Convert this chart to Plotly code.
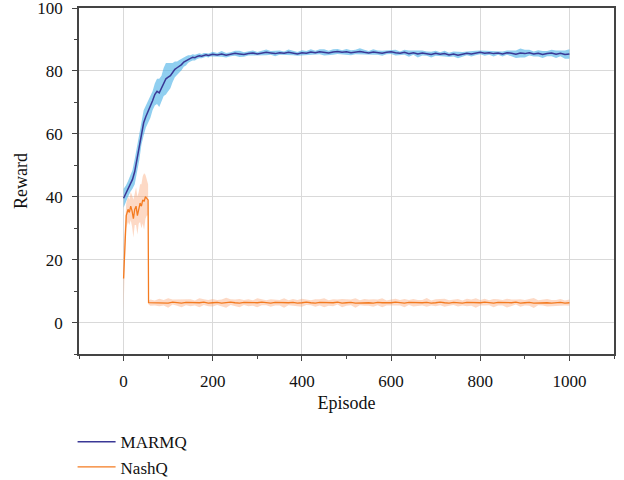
import plotly.graph_objects as go

# MARMQ: mean reward and spread per episode
marmq_ep = list(range(0, 200, 5)) + list(range(200, 1001, 10))
marmq_mean = [
    39.5, 41.0, 42.5, 44.0, 45.5, 48.0, 52.0, 55.5, 60.0, 63.5,
    65.5, 67.0, 68.5, 70.5, 72.5, 73.5, 73.0, 74.5, 76.5, 77.5,
    78.0, 78.5, 79.5, 80.5, 81.0, 81.5, 82.0, 82.8, 83.2, 83.8,
    84.0, 84.3, 84.2, 84.6, 84.8, 84.7, 85.0, 85.1, 84.9, 85.2,
    85.3, 85.1, 85.4, 85.0, 85.3, 85.6, 85.4, 85.2, 85.5, 85.7,
    85.4, 85.6, 85.9, 85.7, 85.5, 85.8, 85.6, 85.9, 85.7, 85.4,
    85.8, 85.6, 86.0, 85.8, 86.1, 85.9, 85.7, 86.0, 86.2, 85.9,
    86.1, 85.8, 86.0, 86.2, 85.9, 85.7, 86.0, 85.8, 85.6, 85.9,
    86.1, 85.8, 85.6, 85.9, 85.5, 85.8, 85.4, 85.7, 85.5, 85.2,
    85.6, 85.3, 85.5, 85.1, 85.4, 85.0, 85.3, 85.6, 85.4, 85.7,
    85.9, 85.6, 85.8, 85.5, 85.7, 85.4, 85.8, 85.6, 85.3, 85.7,
    85.5, 85.8, 85.4, 85.6, 85.2, 85.5, 85.7, 85.3, 85.6, 85.2,
    85.4,
]
marmq_spread = [
    3.0, 2.5, 2.5, 2.5, 3.0, 4.0, 4.0, 4.0, 3.5, 4.0,
    3.5, 3.5, 3.5, 3.0, 3.5, 4.0, 4.5, 4.0, 4.5, 5.0,
    4.5, 4.0, 3.0, 2.5, 2.0, 2.0, 1.8, 1.5, 1.5, 1.2,
    1.0, 1.0, 0.9, 0.8, 0.8, 0.7, 0.7, 0.6, 0.6, 0.6,
    0.8, 0.6, 0.9, 0.7, 0.6, 0.8, 1.0, 0.7, 0.6, 0.8,
    0.6, 0.7, 0.9, 0.6, 0.8, 0.7, 0.6, 0.9, 0.7, 0.6,
    0.8, 0.7, 0.9, 0.6, 0.8, 1.0, 0.7, 0.9, 0.8, 0.7,
    0.9, 0.8, 0.7, 1.0, 0.8, 0.6, 0.9, 0.7, 0.8, 0.6,
    0.7, 0.9, 0.6, 0.8, 1.0, 0.7, 1.1, 0.8, 0.7, 0.9,
    0.8, 0.6, 0.9, 0.7, 0.8, 1.0, 0.7, 0.6, 0.8, 0.7,
    0.6, 0.8, 0.7, 0.9, 0.6, 0.8, 0.7, 0.9, 1.2, 1.4,
    1.2, 0.9, 0.8, 1.0, 1.1, 0.8, 1.0, 1.2, 0.9, 1.3,
    1.5,
]

# NashQ: mean reward and spread per episode
nash_ep = [0, 2, 4, 6, 8, 10, 13, 16, 19, 22, 25, 28, 31, 34, 37, 40, 43, 46, 49, 52, 55,
           56] + list(range(60, 1001, 10))
nash_mean = [
    14.0, 21.0, 30.0, 34.0, 35.0, 36.0, 35.0, 37.0, 35.5, 33.0,
    36.0, 37.0, 34.0, 36.5, 38.0, 37.0, 39.0, 38.5, 40.0, 39.5,
    39.0, 6.3,
    6.3, 6.2, 6.4, 6.3, 6.2, 6.5, 6.3, 6.2, 6.4, 6.3,
    6.2, 6.3, 6.5, 6.2, 6.3, 6.4, 6.2, 6.3, 6.5, 6.3,
    6.2, 6.4, 6.3, 6.2, 6.3, 6.5, 6.3, 6.2, 6.4, 6.3,
    6.2, 6.3, 6.4, 6.2, 6.3, 6.5, 6.3, 6.2, 6.4, 6.3,
    6.2, 6.3, 6.5, 6.2, 6.3, 6.4, 6.2, 6.3, 6.4, 6.3,
    6.2, 6.4, 6.3, 6.2, 6.3, 6.5, 6.3, 6.2, 6.4, 6.3,
    6.2, 6.3, 6.4, 6.2, 6.3, 6.5, 6.3, 6.2, 6.4, 6.3,
    6.2, 6.4, 6.3, 6.2, 6.3, 6.5, 6.3, 6.2, 6.4, 6.3,
    6.2, 6.3, 6.5, 6.2, 6.3, 6.4, 6.2, 6.3, 6.4, 6.3,
    6.2, 6.3, 6.4, 6.2, 6.3,
]
nash_spread = [
    10.0, 8.0, 5.0, 4.0, 4.0, 4.0, 4.0, 4.5, 5.0, 6.0,
    5.0, 6.0, 6.0, 5.0, 6.0, 7.0, 7.5, 9.0, 7.0, 5.5,
    5.0, 0.6,
    1.0, 0.8, 1.2, 0.9, 1.5, 0.8, 1.0, 1.3, 0.9, 1.1,
    0.8, 1.4, 0.9, 1.0, 1.2, 0.8, 1.1, 1.6, 0.9, 1.0,
    1.3, 0.8, 1.1, 0.9, 1.4, 1.0, 0.8, 1.2, 1.0, 0.9,
    1.5, 0.8, 1.1, 1.0, 1.3, 0.9, 0.8, 1.2, 1.0, 1.4,
    0.9, 1.1, 0.8, 1.3, 1.0, 0.9, 1.5, 0.8, 1.1, 1.0,
    1.2, 0.9, 1.4, 0.8, 1.0, 1.1, 0.9, 1.3, 0.8, 1.2,
    1.0, 0.9, 1.4, 0.8, 1.1, 1.0, 1.3, 0.9, 0.8, 1.2,
    0.8, 1.2, 1.0, 1.5, 0.9, 1.1, 0.8, 1.3, 1.0, 0.9,
    1.4, 1.0, 0.8, 1.2, 0.9, 1.1, 1.6, 0.8, 1.0, 1.2,
    1.0, 0.9, 1.1, 0.8, 1.0,
]
assert len(marmq_ep) == len(marmq_mean) == len(marmq_spread)
assert len(nash_ep) == len(nash_mean) == len(nash_spread)

font = "Liberation Serif, Times New Roman, serif"


def band(x, mean, spread, color):
    upper = [m + s for m, s in zip(mean, spread)]
    lower = [m - s for m, s in zip(mean, spread)]
    return go.Scatter(
        x=list(x) + list(x)[::-1], y=upper + lower[::-1],
        fill="toself", fillcolor=color, line=dict(width=0),
        mode="lines", showlegend=False, hoverinfo="skip",
    )


fig = go.Figure()
fig.add_trace(band(marmq_ep, marmq_mean, marmq_spread, "rgba(70,175,230,0.6)"))
fig.add_trace(go.Scatter(x=marmq_ep, y=marmq_mean, name="MARMQ", mode="lines",
                         line=dict(color="#3a3896", width=1.5)))
fig.add_trace(band(nash_ep, nash_mean, nash_spread, "rgba(250,160,110,0.4)"))
fig.add_trace(go.Scatter(x=nash_ep, y=nash_mean, name="NashQ", mode="lines",
                         line=dict(color="#f47b20", width=1.3)))

axis_style = dict(
    showline=True, linecolor="#444444", linewidth=1.5, mirror=True,
    showgrid=True, gridcolor="#d9d9d9", gridwidth=1, zeroline=False,
    ticks="outside", ticklen=5, tickcolor="#444444", automargin=False,
    ticklabeloverflow="allow",
    tickfont=dict(family=font, size=17, color="#111111"),
)

fig.update_xaxes(range=[-100, 1100], dtick=200, tick0=0, ticklabelstandoff=6,
                 minor=dict(dtick=100, ticks="outside", ticklen=3, tickcolor="#444444", showgrid=False),
                 title=dict(text="Episode", font=dict(family=font, size=18, color="#111111"), standoff=6),
                 **axis_style)
fig.update_yaxes(range=[-10, 100], dtick=20, tick0=0, ticklabelstandoff=6,
                 minor=dict(dtick=10, ticks="outside", ticklen=3, tickcolor="#444444", showgrid=False),
                 title=dict(text="Reward", font=dict(family=font, size=18, color="#111111"), standoff=5),
                 **axis_style)

fig.update_layout(
    width=624, height=480,
    margin=dict(l=79, r=10, t=8, b=126, autoexpand=False),
    plot_bgcolor="white", paper_bgcolor="white",
    font=dict(family=font, size=17, color="#111111"),
    legend=dict(x=-0.012, y=-0.203, xanchor="left", yanchor="top", itemwidth=38,
                font=dict(family=font, size=17, color="#111111"),
                bgcolor="rgba(0,0,0,0)"),
)

# drop the browser's default page margin so the figure sits at the window's corner
fig.write_html("out.html", config={"displayModeBar": False},
               post_script="document.body.style.margin = '0';")
